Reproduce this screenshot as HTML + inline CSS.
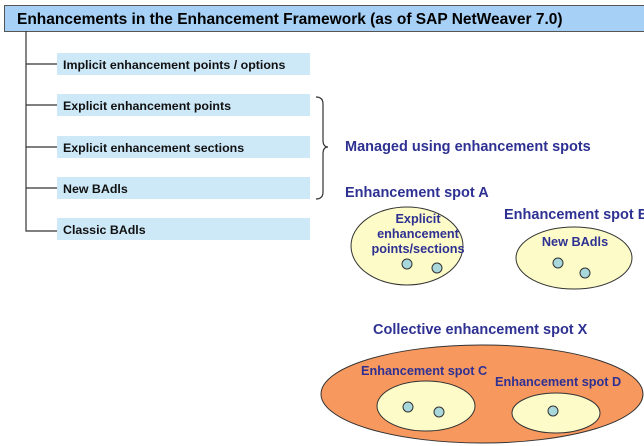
<!DOCTYPE html>
<html><head><meta charset="utf-8"><style>
html,body{margin:0;padding:0;background:#fff;}
svg{display:block;}
text{font-family:"Liberation Sans",Arial,sans-serif;font-weight:bold;}
.b{font-size:12.4px;fill:#111;}
.p{font-size:14.5px;fill:#2e3192;}
.s{font-size:12.7px;fill:#2e3192;}
</style></head><body>
<svg width="644" height="446" viewBox="0 0 644 446" xmlns="http://www.w3.org/2000/svg">
<rect x="4.5" y="5.5" width="645" height="26" fill="#a6d0f5" stroke="#555" stroke-width="1"/>
<text x="17" y="24" style="font-size:15.5px;fill:#000">Enhancements in the Enhancement Framework (as of SAP NetWeaver 7.0)</text>
<g stroke="#333" stroke-width="1.2" fill="none">
<path d="M26 31 V231 H57"/>
<path d="M26 64 H57 M26 105 H57 M26 147 H57 M26 188 H57"/>
<path d="M316 97 Q323 97 323 104 V140 Q323 147 328 147 Q323 147 323 154 V192 Q323 199 316 199"/>
</g>
<g fill="#cde9f8">
<rect x="57" y="53" width="253" height="22"/>
<rect x="57" y="94" width="253" height="22"/>
<rect x="57" y="136" width="253" height="22"/>
<rect x="57" y="177" width="253" height="22"/>
<rect x="57" y="218" width="253" height="22"/>
</g>
<text class="b" x="63" y="69">Implicit enhancement points / options</text>
<text class="b" x="63" y="110">Explicit enhancement points</text>
<text class="b" x="63" y="152">Explicit enhancement sections</text>
<text class="b" x="63" y="193">New BAdls</text>
<text class="b" x="63" y="234">Classic BAdls</text>
<text class="p" x="345" y="151">Managed using enhancement spots</text>
<text class="p" x="345" y="197">Enhancement spot A</text>
<text class="p" x="504" y="219">Enhancement spot B</text>
<text class="p" x="373" y="334">Collective enhancement spot X</text>
<g stroke="#333" stroke-width="1">
<ellipse cx="407" cy="246" rx="56" ry="39" fill="#fdfbc8"/>
<ellipse cx="574" cy="258" rx="58" ry="31" fill="#fdfbc8"/>
<ellipse cx="482" cy="394" rx="161" ry="49" fill="#f7985f"/>
<ellipse cx="426" cy="406" rx="49" ry="25" fill="#fdfbc8"/>
<ellipse cx="556" cy="413" rx="44" ry="20" fill="#fdfbc8"/>
<g fill="#a9d8dc">
<circle cx="407" cy="264" r="5"/><circle cx="437" cy="268" r="5"/>
<circle cx="558" cy="263" r="5"/><circle cx="585" cy="273" r="5"/>
<circle cx="408" cy="407" r="5"/><circle cx="439" cy="412" r="5"/>
<circle cx="553" cy="411" r="5"/>
</g>
</g>
<g class="s" text-anchor="middle">
<text class="s" x="418" y="223">Explicit</text>
<text class="s" x="418" y="238">enhancement</text>
<text class="s" x="418" y="253">points/sections</text>
<text class="s" x="575" y="246">New BAdls</text>
</g>
<text class="s" x="361" y="375">Enhancement spot C</text>
<text class="s" x="495" y="386">Enhancement spot D</text>
</svg>
</body></html>
